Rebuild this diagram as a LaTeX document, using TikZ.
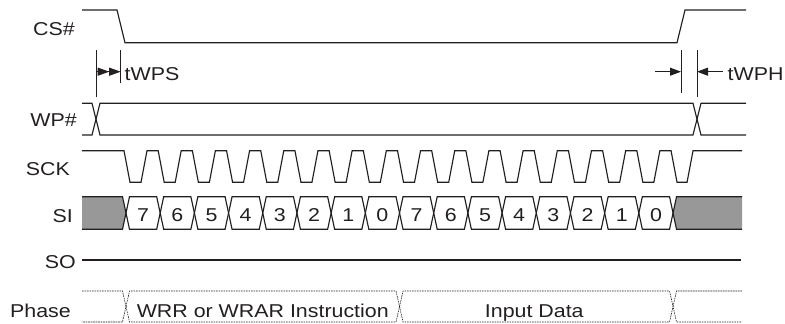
\documentclass[tikz,border=0pt]{standalone}
\usepackage{graphicx}
\usepackage{fontspec}
\setmainfont{Liberation Sans}
\usetikzlibrary{arrows.meta}
\definecolor{ink}{RGB}{35,31,32}
\definecolor{fillgray}{RGB}{152,152,152}
\newcommand{\wide}[1]{\scalebox{1.15}[1]{#1}}
\begin{document}
\begin{tikzpicture}[x=1pt,y=-1pt,
  sig/.style={draw=ink,line width=1.15pt,line join=miter},
  tick/.style={draw=ink,line width=1pt},
  lbl/.style={font=\fontsize{18.6}{20}\selectfont,text=ink,inner sep=0pt,text height=13.4pt,text depth=0pt},
  digit/.style={lbl},
  phasebox/.style={draw=ink,line width=0.6pt,dash pattern=on 1.6pt off 0.9pt},
  dimarrow/.style={draw=ink,line width=1pt,-{Triangle[length=11pt,width=8pt]}},
  dimarrowtwo/.style={draw=ink,line width=1pt,-{Triangle[length=11.5pt,width=8pt]Triangle[length=11.5pt,width=8pt]}}
]
\useasboundingbox (0,0) rectangle (785,324);
\def\P{34.19}
\def\Xo{126}
% labels
\node[lbl,anchor=east] (lcs) at (75,28.5) {\wide{CS\#}};
\node[lbl,anchor=east] (lwp) at (77,120) {\wide{WP\#}};
\node[lbl,anchor=east] (lsck) at (70,169) {\wide{SCK}};
\node[lbl,anchor=east] (lsi) at (73,216) {\wide{SI}};
\node[lbl,anchor=east] (lso) at (76,261.5) {\wide{SO}};
\node[lbl,anchor=east] (lph) at (71,310.5) {\wide{Phase}};
% CS#
\draw[sig] (82,10) -- (117,10) -- (125,42.7) -- (677,42.7) -- (685,10) -- (746,10);
% WP#
\draw[sig] (82,103.3) -- (92,103.3) -- (100,135) -- (693,135) -- (701,103.3) -- (746,103.3);
\draw[sig] (82,135) -- (92,135) -- (100,103.3) -- (693,103.3) -- (701,135) -- (746,135);
% tWPS
\coordinate (wpsAt) at (96,50);   \coordinate (wpsAb) at (96,97);
\coordinate (wpsBt) at (120.7,50); \coordinate (wpsBb) at (120.7,83);
\coordinate (wpsA) at (96,71.7);  \coordinate (wpsB) at (120.7,71.7);
\draw[tick] (wpsAt) -- (wpsAb);
\draw[tick] (wpsBt) -- (wpsBb);
\draw[dimarrowtwo] (wpsA) -- (wpsB);
\node[lbl,anchor=west] (twps) at (124.5,74) {\wide{tWPS}};
% tWPH
\coordinate (wphAt) at (681,50);  \coordinate (wphAb) at (681,93);
\coordinate (wphBt) at (697,50);  \coordinate (wphBb) at (697,97);
\coordinate (wphA) at (681,71.7); \coordinate (wphB) at (697,71.7);
\coordinate (wphL) at (655,71.7); \coordinate (wphR) at (723,71.7);
\draw[tick] (wphAt) -- (wphAb);
\draw[tick] (wphBt) -- (wphBb);
\draw[dimarrow] (wphL) -- (wphA);
\draw[dimarrow] (wphR) -- (wphB);
\node[lbl,anchor=west] (twph) at (727.5,74) {\wide{tWPH}};
% SCK
\draw[sig] (82,150.7)
  \foreach \k in {0,...,15} {
    -- ({\Xo+\P*\k-2},150.7) -- ({\Xo+\P*\k+4},182.3) -- ({\Xo+\P*\k+15},182.3) -- ({\Xo+\P*\k+21},150.7)
  }
  -- ({\Xo+\P*16-2},150.7) -- ({\Xo+\P*16+4},182.3) -- ({\Xo+\P*16+14},182.3) -- ({\Xo+\P*16+20},150.7)
  -- (742,150.7);
% SI
\fill[fillgray] (82,196.7) -- ({\Xo-3.5},196.7) -- (\Xo,213) -- ({\Xo-3.5},229.3) -- (82,229.3) -- cycle;
\draw[sig] (82,196.7) -- ({\Xo-3.5},196.7) -- (\Xo,213) -- ({\Xo-3.5},229.3) -- (82,229.3);
\fill[fillgray] (742,196.7) -- ({\Xo+16*\P+3.5},196.7) -- ({\Xo+16*\P},213) -- ({\Xo+16*\P+3.5},229.3) -- (742,229.3) -- cycle;
\draw[sig] (742,196.7) -- ({\Xo+16*\P+3.5},196.7) -- ({\Xo+16*\P},213) -- ({\Xo+16*\P+3.5},229.3) -- (742,229.3);
\foreach \k/\d in {0/7,1/6,2/5,3/4,4/3,5/2,6/1,7/0,8/7,9/6,10/5,11/4,12/3,13/2,14/1,15/0} {
  \draw[sig] ({\Xo+\P*\k},213) -- ({\Xo+\P*\k+3.5},196.7) -- ({\Xo+\P*(\k+1)-3.5},196.7) -- ({\Xo+\P*(\k+1)},213)
     -- ({\Xo+\P*(\k+1)-3.5},229.3) -- ({\Xo+\P*\k+3.5},229.3) -- cycle;
  \node[digit] (bit\k) at ({\Xo+\P*(\k+0.5)},214.5) {\wide{\d}};
}
% SO
\draw[sig] (82,260) -- (741,260);
% Phase
\draw[phasebox] (82,291) -- ({\Xo-3.5},291) -- (\Xo,306.5) -- ({\Xo-3.5},322) -- (82,322);
\draw[phasebox] (\Xo,306.5) -- ({\Xo+3.5},291) -- ({\Xo+8*\P-3.5},291) -- ({\Xo+8*\P},306.5) -- ({\Xo+8*\P-3.5},322) -- ({\Xo+3.5},322) -- cycle;
\draw[phasebox] ({\Xo+8*\P},306.5) -- ({\Xo+8*\P+3.5},291) -- ({\Xo+16*\P-3.5},291) -- ({\Xo+16*\P},306.5) -- ({\Xo+16*\P-3.5},322) -- ({\Xo+8*\P+3.5},322) -- cycle;
\draw[phasebox] (742,291) -- ({\Xo+16*\P+3.5},291) -- ({\Xo+16*\P},306.5) -- ({\Xo+16*\P+3.5},322) -- (742,322);
\node[lbl] (ph1) at ({\Xo+4*\P},310.5) {\wide{WRR or WRAR Instruction}};
\node[lbl] (ph2) at ({\Xo+12*\P-2},310.5) {\wide{Input Data}};
\end{tikzpicture}
\end{document}
